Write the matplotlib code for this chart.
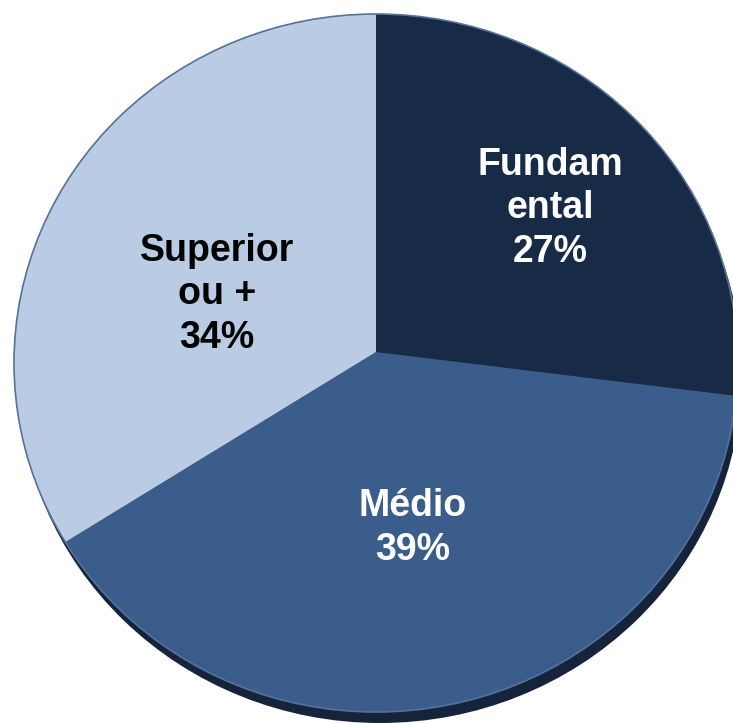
import matplotlib
matplotlib.use("Agg")
import matplotlib.pyplot as plt
from matplotlib.patches import Ellipse

# Escolaridade: share of each education level
categories = ["Fundamental", "Médio", "Superior ou +"]
values = [27, 39, 34]
label_lines = [["Fundam", "ental"], ["Médio"], ["Superior", "ou +"]]
colors = ["#172a46", "#3a5d8c", "#b9cce3"]
text_colors = ["white", "white", "black"]

W, H = 733, 723
DPI = 100
fig = plt.figure(figsize=(W / DPI, H / DPI), dpi=DPI)
ax = fig.add_axes([0, 0, 1, 1])

# geometry in pixels: wedge apex and the elliptical rim (slight tilt)
vx, vy = 376, 352          # apex where the slices meet
ex, ey = 376, 363          # centre of the rim ellipse
rx, ry = 362, 349


def px(x, y):
    """pixel (from top-left) -> data coordinates"""
    return (x - vx) / rx, (vy - y) / ry


xlim = (-vx / rx, (W - vx) / rx)
ylim = (-(H - vy) / ry, vy / ry)
rim_center = px(ex, ey)

# drop shadow under the disc
ax.add_patch(Ellipse(px(ex + 4, ey + 11), 2, 2, facecolor="#15243b",
                     edgecolor="none", zorder=0))

rim = Ellipse(rim_center, 2, 2, facecolor="none", edgecolor="none")
ax.add_patch(rim)

wedges, _ = ax.pie(values, colors=colors, startangle=90, counterclock=False,
                   radius=1.6, center=(0, 0),
                   wedgeprops=dict(edgecolor="none", linewidth=0))
for w in wedges:
    w.set_zorder(1)
    w.set_clip_on(True)
    w.set_clip_path(rim)

# thin outline of the disc
ax.add_patch(Ellipse(rim_center, 2, 2, facecolor="none", edgecolor="#55719c",
                     linewidth=1.2, zorder=2))

ax.set_aspect("auto")
ax.set_xlim(*xlim)
ax.set_ylim(*ylim)
ax.axis("off")

# label anchor: centre x, first baseline y, line step (pixels)
anchors = [(550, 175), (413, 516), (217, 261)]
step = 43.5
font = dict(family=["Liberation Sans", "DejaVu Sans"], fontsize=27, fontweight="bold")
for lines, v, (lx, ly), tc in zip(label_lines, values, anchors, text_colors):
    rows = lines + [f"{v}%"]
    for i, row in enumerate(rows):
        x, y = px(lx, ly + i * step)
        ax.text(x, y, row, ha="center", va="baseline", color=tc, zorder=5, **font)

fig.savefig("out.png", dpi=DPI, facecolor="white")
